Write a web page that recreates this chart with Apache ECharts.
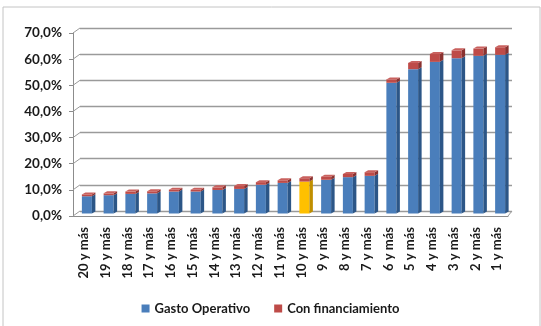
<!DOCTYPE html>
<html>
<head>
<meta charset="utf-8">
<script src="https://cdn.jsdelivr.net/npm/echarts@6/dist/echarts.min.js"></script>
<style>
  html, body { margin: 0; padding: 0; background: #fff; }
  #chart { width: 541px; height: 326px; }
</style>
</head>
<body>
<div id="chart"></div>
<script>
// data (percent)
const categories = ['20 y más', '19 y más', '18 y más', '17 y más', '16 y más', '15 y más', '14 y más',
  '13 y más', '12 y más', '11 y más', '10 y más', '9 y más', '8 y más', '7 y más', '6 y más',
  '5 y más', '4 y más', '3 y más', '2 y más', '1 y más'];
const gastoOperativo = [6.6, 7.0, 7.5, 7.7, 8.4, 8.4, 9.0, 9.4, 11.0, 11.7, 12.2, 12.9, 13.9, 14.4,
  50.0, 55.2, 58.0, 59.4, 60.3, 60.7];
const conFinanciamiento = [0.7, 0.7, 0.9, 0.8, 0.7, 0.7, 1.0, 1.1, 1.0, 1.0, 1.3, 1.2, 1.2, 1.4,
  1.3, 2.4, 3.0, 3.0, 2.8, 2.9];
const yTicks = [0, 10, 20, 30, 40, 50, 60, 70];
const highlighted = '10 y más';

// fake 3d look
const DEPTH_X = 7, DEPTH_Y = 5;     // back wall offset
const BAR_W = 10, SIDE_X = 3.5, TOP_Y = 2;

const colors = {
  blue:   { front: '#4A7EBB', side: '#2C5687', top: '#6A96CC' },
  red:    { front: '#BE4B48', side: '#8A3230', top: '#C9615E' },
  yellow: { front: '#FFC000', side: '#C08F00', top: '#FFD24D' }
};

const rows = categories.map((c, i) => [i, gastoOperativo[i], conFinanciamiento[i]]);

function segment(api, from, to, pal, withTop) {
  const i = api.value(0);
  const p0 = api.coord([i, from]);
  const p1 = api.coord([i, to]);
  const x = p0[0] - BAR_W / 2 + DEPTH_X / 2 - 0.5;
  const yb = p0[1] - DEPTH_Y / 2;
  const yt = p1[1] - DEPTH_Y / 2;
  const kids = [
    { type: 'rect', shape: { x: x, y: yt, width: BAR_W, height: yb - yt }, style: { fill: pal.front } },
    { type: 'polygon', shape: { points: [[x + BAR_W, yt], [x + BAR_W + SIDE_X, yt - TOP_Y],
      [x + BAR_W + SIDE_X, yb - TOP_Y], [x + BAR_W, yb]] }, style: { fill: pal.side } }
  ];
  if (withTop) {
    kids.push({ type: 'polygon', shape: { points: [[x, yt], [x + SIDE_X, yt - TOP_Y],
      [x + BAR_W + SIDE_X, yt - TOP_Y], [x + BAR_W, yt]] }, style: { fill: pal.top } });
  }
  return { type: 'group', children: kids };
}

const chart = echarts.init(document.getElementById('chart'));

const option = {
  backgroundColor: '#fff',
  animation: false,
  textStyle: { fontFamily: 'Lato' },
  graphic: [{
    type: 'rect', shape: { x: 3, y: 7, width: 537, height: 330 },
    style: { fill: 'none', stroke: '#c4c4c4', lineWidth: 1 }, z: -10
  }],
  legend: {
    data: ['Gasto Operativo', 'Con financiamiento'],
    bottom: 6,
    left: 'center',
    icon: 'rect',
    itemWidth: 8,
    itemHeight: 8,
    itemGap: 24,
    textStyle: { fontFamily: 'Lato', fontWeight: 'bold', fontSize: 13, color: '#1a1a1a' }
  },
  grid: [
    { left: 73, right: 33, top: 33, bottom: 110 },
    { left: 73 + DEPTH_X, right: 33 - DEPTH_X + 3, top: 33 - DEPTH_Y, bottom: 110 + DEPTH_Y }
  ],
  xAxis: [{
    type: 'category',
    data: categories,
    gridIndex: 0,
    axisLine: { lineStyle: { color: '#8c8c8c' } },
    axisTick: { interval: 0, length: 5, lineStyle: { color: '#8c8c8c' } },
    axisLabel: {
      interval: 0, rotate: 90, margin: 11,
      fontFamily: 'Lato', fontWeight: 'bold', fontSize: 13, color: '#1a1a1a'
    }
  }, {
    type: 'category', data: categories, gridIndex: 1, show: false
  }],
  yAxis: [{
    type: 'value', gridIndex: 0,
    min: 0, max: 70, interval: 10,
    axisLine: { show: true, lineStyle: { color: '#8c8c8c' } },
    axisTick: { show: true, length: 4, lineStyle: { color: '#8c8c8c' } },
    splitLine: { show: false },
    axisLabel: {
      margin: 11,
      fontFamily: 'Lato', fontWeight: 'bold', fontSize: 13.5, color: '#1a1a1a',
      formatter: v => v.toFixed(1).replace('.', ',') + '%'
    }
  }, {
    type: 'value', gridIndex: 1,
    min: 0, max: 70, interval: 10,
    axisLine: { show: false }, axisTick: { show: false }, axisLabel: { show: false },
    splitLine: { show: true, lineStyle: { color: '#9a9a9a', width: 1.3 } }
  }],
  series: [{
    // left wall and floor edges joining front axis to back wall
    type: 'custom',
    xAxisIndex: 0, yAxisIndex: 0,
    silent: true,
    data: yTicks.map(v => [0, v]),
    encode: { x: 0, y: 1 },
    renderItem: (params, api) => {
      const y = api.coord([0, api.value(1)])[1];
      const cs = params.coordSys;
      const kids = [{ type: 'line', shape: { x1: cs.x, y1: y, x2: cs.x + DEPTH_X, y2: y - DEPTH_Y },
        style: { stroke: '#9a9a9a', lineWidth: 1 } }];
      if (api.value(1) === 0) {
        kids.push({ type: 'line', shape: { x1: cs.x + cs.width, y1: y, x2: cs.x + cs.width + DEPTH_X - 3, y2: y - DEPTH_Y },
          style: { stroke: '#9a9a9a', lineWidth: 1 } });
      }
      return { type: 'group', children: kids };
    },
    z: 1
  }, {
    name: 'Gasto Operativo',
    type: 'custom',
    xAxisIndex: 0, yAxisIndex: 0,
    itemStyle: { color: colors.blue.front },
    data: rows,
    encode: { x: 0, y: 1 },
    renderItem: (params, api) => {
      const i = api.value(0);
      const pal = categories[i] === highlighted ? colors.yellow : colors.blue;
      return segment(api, 0, api.value(1), pal, false);
    },
    z: 3
  }, {
    name: 'Con financiamiento',
    type: 'custom',
    xAxisIndex: 0, yAxisIndex: 0,
    itemStyle: { color: colors.red.front },
    data: rows,
    encode: { x: 0, y: 1 },
    renderItem: (params, api) => {
      const b = api.value(1);
      return segment(api, b, b + api.value(2), colors.red, true);
    },
    z: 4
  }]
};

chart.setOption(option);
</script>
</body>
</html>
